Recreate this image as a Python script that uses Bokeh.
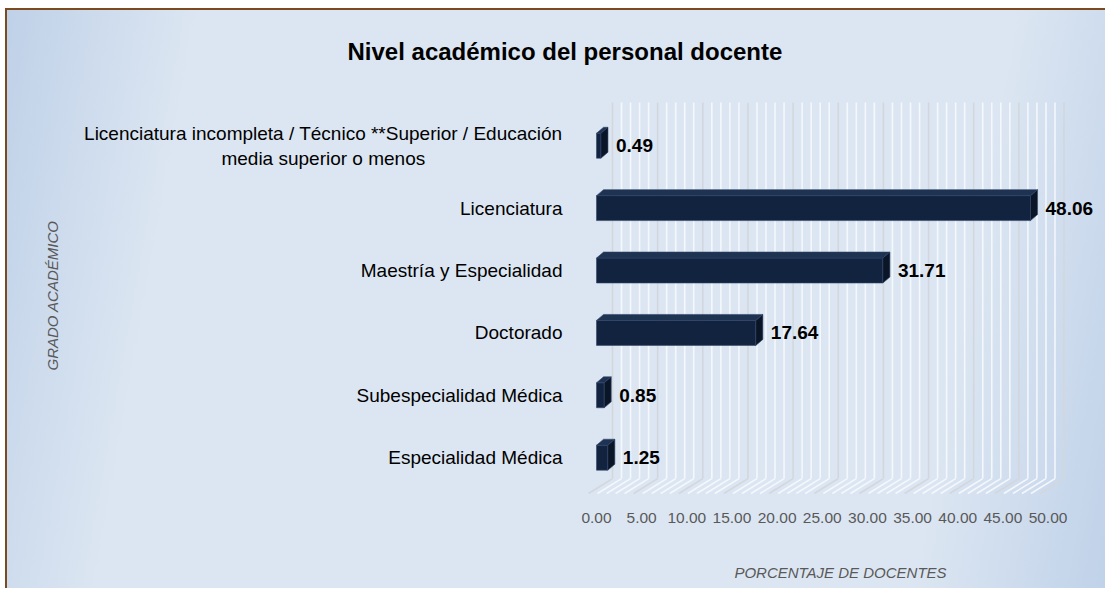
from bokeh.plotting import figure
from bokeh.models import FixedTicker, NumeralTickFormatter, Range1d, Title
from bokeh.embed import file_html
from bokeh.resources import INLINE
from bokeh.core.properties import value

# ---------------- data ----------------
categories = [
    "Especialidad Médica",
    "Subespecialidad Médica",
    "Doctorado",
    "Maestría y Especialidad",
    "Licenciatura",
    "Licenciatura incompleta / Técnico **Superior / Educación\nmedia superior o menos",
]
values = [1.25, 0.85, 17.64, 31.71, 48.06, 0.49]
value_labels = ["1.25", "0.85", "17.64", "31.71", "48.06", "0.49"]
x_ticks = [0, 5, 10, 15, 20, 25, 30, 35, 40, 45, 50]
title_text = "Nivel académico del personal docente"
x_title = "PORCENTAJE DE DOCENTES"
y_title = "GRADO ACADÉMICO"

# ---------------- style ----------------
FONT = "'Liberation Sans', Arial"
FRONT = "#12233f"
TOP = "#1e3252"
SIDE = "#0a1628"
EDGE = "#31456a"
GRID_MAJOR = "#d3d7dd"
GRID_MINOR = "#f4f7fb"

H = 0.40      # front face height (category units)
DX = 0.78     # 3D depth in x (data units)
DY = 0.096    # 3D depth in y (category units)
BACK = 1.77   # back wall offset (x units)
FRONT_OFF = 0.886
WALL_TOP = 5.694
WALL_BOTTOM = -0.335
FLOOR_FRONT = -0.574
NBSP_PAD = "\u00a0" * 26   # centres the second line of a two-line tick label


def tick_label(c):
    lines = c.split("\n")
    if len(lines) == 1:
        return c
    return lines[0] + "\n" + "\n".join(l + NBSP_PAD for l in lines[1:])


ypos = list(range(len(categories)))

p = figure(
    width=1100, height=580,
    output_backend="svg", toolbar_location=None,
    x_range=Range1d(-1.772, 55.81), y_range=Range1d(-0.686, 5.885),
    min_border_left=573, min_border_right=7, min_border_top=78, min_border_bottom=90,
    background_fill_color=None, border_fill_color=None,
    outline_line_color=None,
)
p.styles = {
    "background": "linear-gradient(100deg, #bfd1e8 0%, #dce6f2 16%, #dce6f2 84%, #c0d2e9 100%)",
    "border-top": "2px solid #7b4a1e",
    "border-left": "2px solid #7b4a1e",
    "margin-top": "8px",
    "margin-left": "5px",
}

p.xgrid.visible = False
p.ygrid.visible = False

# 3D grid (back wall + floor)
grid_vals = list(range(0, 51))
for major in (False, True):
    gv = [g for g in grid_vals if (g % 5 == 0) == major]
    col = GRID_MAJOR if major else GRID_MINOR
    p.segment(x0=[g + BACK for g in gv], y0=[WALL_TOP] * len(gv),
              x1=[g + BACK for g in gv], y1=[WALL_BOTTOM] * len(gv),
              line_color=col, line_width=1.6)
    p.segment(x0=[g + BACK for g in gv], y0=[WALL_BOTTOM] * len(gv),
              x1=[g - FRONT_OFF for g in gv], y1=[FLOOR_FRONT] * len(gv),
              line_color=col, line_width=1.6)

# bars: front, top, side faces
p.hbar(y=ypos, left=0, right=values, height=H, fill_color=FRONT,
       line_color=EDGE, line_width=0.6)
top_xs = [[0, v, v + DX, DX] for v in values]
top_ys = [[y + H / 2, y + H / 2, y + H / 2 + DY, y + H / 2 + DY] for y in ypos]
p.patches(top_xs, top_ys, fill_color=TOP, line_color=EDGE, line_width=0.6)
side_xs = [[v, v + DX, v + DX, v] for v in values]
side_ys = [[y - H / 2, y - H / 2 + DY, y + H / 2 + DY, y + H / 2] for y in ypos]
p.patches(side_xs, side_ys, fill_color=SIDE, line_color=EDGE, line_width=0.6)

# value labels
p.text(x=[v + DX for v in values], y=ypos, text=value_labels,
       x_offset=8, text_baseline="middle", text_align="left",
       text_font=value(FONT), text_font_style="bold",
       text_font_size="19px", text_color="#000000")

# axes
xa = p.xaxis[0]
xa.ticker = FixedTicker(ticks=x_ticks)
xa.formatter = NumeralTickFormatter(format="0.00")
xa.axis_line_color = None
xa.major_tick_line_color = None
xa.minor_tick_line_color = None
xa.major_label_text_font = FONT
xa.major_label_text_font_size = "15.5px"
xa.major_label_text_color = "#595959"
xa.major_label_standoff = 6
xa.axis_label = x_title
xa.axis_label_text_font = FONT
xa.axis_label_text_font_size = "15px"
xa.axis_label_text_font_style = "italic"
xa.axis_label_text_color = "#595959"
xa.axis_label_standoff = 38

ya = p.yaxis[0]
ya.ticker = FixedTicker(ticks=ypos)
ya.major_label_overrides = {i: tick_label(c) for i, c in zip(ypos, categories)}
ya.axis_line_color = None
ya.major_tick_line_color = None
ya.minor_tick_line_color = None
ya.major_label_text_font = FONT
ya.major_label_text_font_size = "19px"
ya.major_label_text_color = "#000000"
ya.major_label_standoff = 12
ya.axis_label = y_title
ya.axis_label_text_font = FONT
ya.axis_label_text_font_size = "15px"
ya.axis_label_text_font_style = "italic"
ya.axis_label_text_color = "#595959"
ya.axis_label_standoff = 20

p.title = Title(text=title_text, align="left", offset=-233, standoff=51,
                text_font=FONT, text_font_size="24px", text_font_style="bold",
                text_color="#000000")

open("out.html", "w").write(file_html(p, INLINE))
